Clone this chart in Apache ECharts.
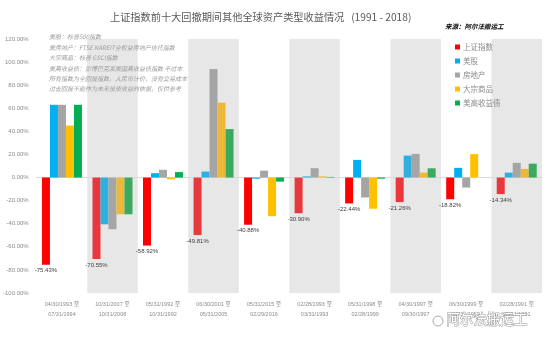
<!DOCTYPE html>
<html><head><meta charset="utf-8">
<script src="https://cdn.jsdelivr.net/npm/echarts@6/dist/echarts.min.js"></script>
<style>html,body{margin:0;padding:0;background:#fff}#c{width:550px;height:340px}</style>
</head><body><div id="c"></div>
<script>
const categories = [
  "04/30/1993 至\n07/31/1994",
  "10/31/2007 至\n10/31/2008",
  "05/31/1992 至\n10/31/1992",
  "06/30/2001 至\n05/31/2005",
  "05/31/2015 至\n02/29/2016",
  "02/28/1993 至\n03/31/1993",
  "05/31/1998 至\n02/28/1999",
  "04/30/1997 至\n09/30/1997",
  "06/30/1999 至\n12/31/1999",
  "02/28/1991 至\n05/31/1991"
];
const seriesNames = ["上证指数", "美股", "房地产", "大宗商品", "美高收益债"];
const shIndex   = [-75.43, -70.55, -58.92, -49.81, -40.88, -30.90, -22.44, -21.26, -18.82, -14.34];
const usStock   = [63, -40.5, 3.8, 5.2, -1.0, 1.0, 15.3, 19.0, 8.4, 4.3];
const realEstate= [63, -44.8, 6.7, 94, 6.0, 8.1, -17.3, 20.5, -8.7, 12.7];
const commodity = [45, -31.8, -1.5, 64.8, -33.5, 1.0, -27.0, 4.3, 20.3, 7.5];
const highYield = [63, -31.8, 4.7, 42, -3.5, 0.5, -1.0, 8.0, 0, 12.0];
const yTicks = {min: -100, max: 120, interval: 20};

const colorsA = ["#FF0000", "#00B0F0", "#A5A5A5", "#FFC000", "#00B050"];
const colorsB = ["#E8383D", "#2FAEE0", "#A5A5A5", "#EBB83A", "#3BAA5F"];
const values = [shIndex, usStock, realEstate, commodity, highYield];

const chart = echarts.init(document.getElementById('c'), null, {renderer: 'canvas'});
const series = values.map((arr, si) => ({
  name: seriesNames[si],
  type: 'bar',
  xAxisIndex: 0,
  data: arr.map((v, i) => ({value: v, itemStyle: {color: i % 2 === 1 ? colorsB[si] : colorsA[si]}})),
  barWidth: 8,
  barGap: '0%',
  itemStyle: {color: colorsA[si]},
  label: si === 0 ? {
    show: true, position: 'bottom', distance: 3,
    fontSize: 6, color: '#404040', fontFamily: 'Liberation Sans',
    formatter: p => p.value.toFixed(2) + '%'
  } : {show: false},
  emphasis: {disabled: true}
}));

chart.setOption({
  animation: false,
  backgroundColor: '#fff',
  color: colorsA,
  textStyle: {fontFamily: '"Noto Sans CJK SC", "Liberation Sans", sans-serif'},
  title: [{
    text: '上证指数前十大回撤期间其他全球资产类型收益情况   (1991 - 2018)',
    left: 105, top: 7,
    textStyle: {fontSize: 10.2, fontWeight: 'normal', color: '#595959', fontFamily: '"Noto Sans CJK SC", sans-serif'}
  }, {
    text: '来源：阿尔法搬运工',
    left: 440, top: 18,
    textStyle: {fontSize: 6.5, fontWeight: 'bold', fontStyle: 'italic', color: '#000', fontFamily: '"Noto Sans CJK SC", sans-serif'}
  }],
  legend: {
    orient: 'vertical', left: 450, top: 37,
    itemWidth: 5, itemHeight: 5, itemGap: 4,
    icon: 'rect',
    textStyle: {fontSize: 7.5, color: '#8c8c8c', lineHeight: 10, padding: [0,0,0,-2]},
    data: seriesNames
  },
  grid: {left: 36, right: 8, top: 39, bottom: 47, containLabel: false},
  xAxis: [{
    type: 'category', data: categories, position: 'bottom',
    axisLine: {show: false, onZero: false},
    axisTick: {show: false},
    axisLabel: {fontSize: 5.5, color: '#8c8c8c', margin: 6, lineHeight: 10, interval: 0, fontFamily: '"Liberation Sans", "Noto Sans CJK SC", sans-serif'},
    splitArea: {show: true, areaStyle: {color: ['rgba(255,255,255,0)', '#E7E7E7']}},
    splitLine: {show: false}
  }, {
    type: 'category', data: categories, position: 'bottom',
    axisLine: {show: true, onZero: true, lineStyle: {color: '#D9D9D9', width: 1}},
    axisTick: {show: false}, axisLabel: {show: false}, splitLine: {show: false}
  }],
  yAxis: {
    type: 'value', min: yTicks.min, max: yTicks.max, interval: yTicks.interval,
    axisLine: {show: false}, axisTick: {show: false},
    splitLine: {show: false},
    axisLabel: {fontSize: 6, color: '#8c8c8c', margin: 8, fontFamily: 'Liberation Sans', formatter: v => v.toFixed(2) + '%'}
  },
  graphic: [{
    type: 'text', left: 49, top: 32, z: 10,
    style: {
      text: '美股：标普500指数\n美房地产：FTSE NAREIT全权益房地产信托指数\n大宗商品：标普 GSCI指数\n美高收益债：彭博巴克莱美国高收益债指数 不过本\n所有指数为全回报指数，人民币计价，没有交易成本\n过去回报不能作为未来投资收益的依据，仅供参考',
      fontSize: 6, lineHeight: 10.4, fontStyle: 'italic', fill: '#9a9a9a',
      fontFamily: '"Noto Sans CJK SC", sans-serif'
    }
  }, {
    type: 'text', left: 446, top: 312, z: 20,
    style: {
      text: '阿尔法搬运工', fontSize: 13.5, fill: '#ffffff', stroke: '#9a9a9a', lineWidth: 1,
      fontFamily: '"Noto Sans CJK SC", sans-serif'
    }
  }, {
    type: 'circle', shape: {cx: 438, cy: 321, r: 5}, z: 20,
    style: {fill: '#fff', stroke: '#aaa', lineWidth: 1}
  }],
  series: series
});
</script></body></html>
